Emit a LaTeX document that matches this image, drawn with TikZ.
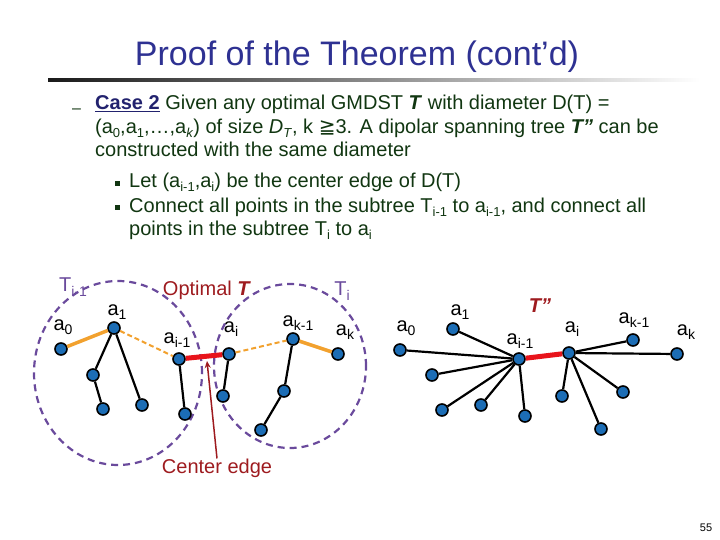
\documentclass[tikz,border=0pt]{standalone}
\usepackage{fontspec}
\setmainfont{Liberation Sans}
\newfontfamily\dejavu{DejaVu Sans}
\usetikzlibrary{arrows.meta}
\definecolor{titleblue}{HTML}{2E3192}
\definecolor{casenavy}{HTML}{22226E}
\definecolor{bodygreen}{HTML}{113611}
\definecolor{nodeblue}{HTML}{1C6DB5}
\definecolor{edgeorange}{HTML}{F2A12E}
\definecolor{edgered}{HTML}{E8141B}
\definecolor{setpurple}{HTML}{6A4A9C}
\definecolor{darkred}{HTML}{9E1B1F}
\newcommand{\bsub}[1]{\raisebox{-4pt}{\fontsize{13}{13}\selectfont #1}}
\newcommand{\dsub}[1]{\raisebox{-4.5pt}{\fontsize{14}{14}\selectfont #1}}
\tikzset{
 vtx/.style={circle, draw=black, line width=1.6pt, fill=nodeblue, minimum size=12pt, inner sep=0pt},
 blk/.style={draw=black, line width=2.2pt},
 orng/.style={draw=edgeorange, line width=3.5pt},
 odash/.style={draw=edgeorange, line width=2pt, dash pattern=on 5pt off 3pt},
 cedge/.style={draw=edgered, line width=5pt},
 tdash/.style={draw=setpurple, line width=2.2pt, dash pattern=on 7pt off 5pt},
 lab/.style={font=\fontsize{20}{20}\selectfont, inner sep=0pt},
 body/.style={anchor=base west, inner sep=0pt, text=bodygreen, font=\fontsize{20}{24}\selectfont},
 bul/.style={fill=bodygreen, minimum size=5pt, inner sep=0pt},
}
\begin{document}
\begin{tikzpicture}[x=1pt,y=-1pt]
\useasboundingbox (0,0) rectangle (720,540);
% title
\node[anchor=base, inner sep=0pt, text=titleblue, font=\fontsize{34}{38}\selectfont] (title) at (357,66) {Proof of the Theorem (cont’d)};
\shade[left color=black!90, right color=white] (48,78.5) rectangle (700,81.5);
% body text
\node[body, font=\fontsize{16}{20}\selectfont] (dash) at (72,113.5) {–};
\node[body] (l1) at (95,110) {\textcolor{casenavy}{\textbf{\underline{Case 2}}} Given any optimal GMDST \textbf{\textit{T}} with diameter D(T) =};
\node[body] (l2) at (95,134) {(a\bsub{0},a\bsub{1},…,a\bsub{\textit{k}}) of size \textit{D}\bsub{\textit{T}}, k {\dejavu ≧}3. A dipolar spanning tree \textbf{\textit{T”}} can be};
\node[body] (l3) at (95,157) {constructed with the same diameter};
\node[bul] (b1) at (117,184) {};
\node[body] (l4) at (129,188) {Let (a\bsub{i-1},a\bsub{i}) be the center edge of D(T)};
\node[bul] (b2) at (117,208) {};
\node[body] (l5) at (129,212) {Connect all points in the subtree T\bsub{i-1} to a\bsub{i-1}, and connect all};
\node[body] (l6) at (129,236) {points in the subtree T\bsub{i} to a\bsub{i}};
% left diagram: subtrees
\draw[tdash] (118,373) ellipse [x radius=84pt, y radius=92pt];
\draw[tdash] (290,366) ellipse [x radius=76pt, y radius=82pt];
\node[lab, text=setpurple] (tim) at (73,287) {T\dsub{i-1}};
\node[lab, text=setpurple] (ti) at (342,291) {T\dsub{i}};
\node[lab, text=darkred] (opt) at (207,290) {Optimal \textbf{\textit{T}}};
% left vertices
\node[vtx] (L0) at (61,349) {};
\node[vtx] (L1) at (114,328) {};
\node[vtx] (L1a) at (93,375) {};
\node[vtx] (L1aa) at (103,409) {};
\node[vtx] (L1b) at (142,405) {};
\node[vtx] (Lim) at (179,359) {};
\node[vtx] (Limc) at (185,414) {};
\node[vtx] (Li) at (229,354) {};
\node[vtx] (Lic) at (223,396) {};
\node[vtx] (Lkm) at (293,339) {};
\node[vtx] (Lkmc) at (284,391) {};
\node[vtx] (Lkmcc) at (261,430) {};
\node[vtx] (Lk) at (338,354) {};
\draw[orng] (L0) -- (L1);
\draw[odash] (L1) -- (Lim);
\draw[cedge] (Lim) -- (Li);
\draw[odash] (Li) -- (Lkm);
\draw[orng] (Lkm) -- (Lk);
\draw[blk] (L1) -- (L1a) -- (L1aa);
\draw[blk] (L1) -- (L1b);
\draw[blk] (Lim) -- (Limc);
\draw[blk] (Li) -- (Lic);
\draw[blk] (Lkm) -- (Lkmc) -- (Lkmcc);
\node[lab] (la0) at (63,327) {a\dsub{0}};
\node[lab] (la1) at (117,312) {a\dsub{1}};
\node[lab] (laim) at (177,340) {a\dsub{i-1}};
\node[lab] (lai) at (231,329) {a\dsub{i}};
\node[lab] (lakm) at (298,323) {a\dsub{k-1}};
\node[lab] (lak) at (345,332) {a\dsub{k}};
% center edge pointer
\node[lab, text=darkred] (ce) at (217,468) {Center edge};
\coordinate (cetip) at (207,361);
\draw[darkred, line width=1.5pt, -{Stealth[length=7pt,width=6pt]}] (ce.north) -- (cetip);
% right diagram
\node[lab, text=darkred] (tpp) at (540,306) {\textbf{\textit{T”}}};
\node[vtx] (R0) at (400,350) {};
\node[vtx] (R1) at (453,329) {};
\node[vtx] (Rim) at (519,359) {};
\node[vtx] (Ri) at (569,353) {};
\node[vtx] (Rkm) at (633,340) {};
\node[vtx] (Rk) at (677,354) {};
\node[vtx] (Ra) at (432,375) {};
\node[vtx] (Rb) at (442,410) {};
\node[vtx] (Rc) at (481,405) {};
\node[vtx] (Rd) at (525,416) {};
\node[vtx] (Re) at (562,396) {};
\node[vtx] (Rf) at (601,429) {};
\node[vtx] (Rg) at (623,392) {};
\draw[cedge] (Rim) -- (Ri);
\foreach \v in {R0,R1,Ra,Rb,Rc,Rd} \draw[blk] (Rim) -- (\v);
\foreach \v in {Rkm,Rk,Re,Rf,Rg} \draw[blk] (Ri) -- (\v);
\node[lab] (ra0) at (406,328) {a\dsub{0}};
\node[lab] (ra1) at (460,312) {a\dsub{1}};
\node[lab] (raim) at (520,341) {a\dsub{i-1}};
\node[lab] (rai) at (572,329) {a\dsub{i}};
\node[lab] (rakm) at (634,320) {a\dsub{k-1}};
\node[lab] (rak) at (686,332) {a\dsub{k}};
% page number
\node[inner sep=0pt, font=\fontsize{11}{11}\selectfont] (pg) at (706,528) {55};
\end{tikzpicture}
\end{document}
